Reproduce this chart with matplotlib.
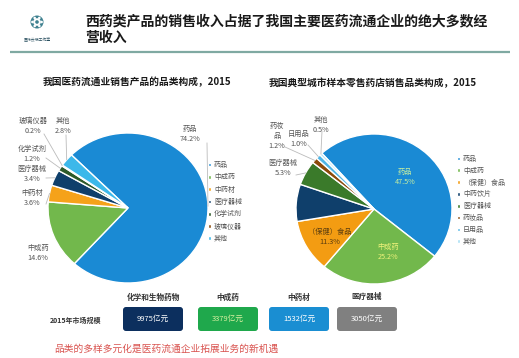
import matplotlib
matplotlib.use("Agg")
import matplotlib.pyplot as plt
from matplotlib.patches import FancyBboxPatch, Circle
import numpy as np

plt.rcParams['font.family'] = ['Noto Sans CJK SC', 'DejaVu Sans']

W, H = 519, 358

# ---------------- data ----------------
title_lines = ["西药类产品的销售收入占据了我国主要医药流通企业的绝大多数经", "营收入"]
left_title = "我国医药流通业销售产品的品类构成，2015"
left_cats = ["药品", "中成药", "中药材", "医疗器械", "化学试剂", "玻璃仪器", "其他"]
left_vals = [74.2, 14.6, 3.6, 3.4, 1.2, 0.2, 2.8]
left_colors = ["#1a8ad4", "#72b84c", "#f5a21a", "#0f3f6b", "#2d5a2a", "#8b4a0b", "#3cb8ea"]

right_title = "我国典型城市样本零售药店销售品类构成，2015"
right_cats = ["药品", "中成药", "（保健）食品", "中药饮片", "医疗器械", "药妆品", "日用品", "其他"]
right_vals = [47.5, 25.2, 11.3, 8.0, 5.3, 1.2, 1.0, 0.5]
right_colors = ["#1a8ad4", "#72b84c", "#f39c12", "#0f3f6b", "#3a7a2a", "#8b4a0b", "#4fb5e6", "#a8dff5"]

market_label = "2015年市场规模"
market_cats = ["化学和生物药物", "中成药", "中药材", "医疗器械"]
market_vals = [9975, 3379, 1532, 3050]
market_colors = ["#0c2f5e", "#1fa84c", "#1a8ed2", "#808080"]
market_text_colors = ["white", "#d8f0a0", "white", "white"]
footer = "品类的多样多元化是医药流通企业拓展业务的新机遇"

fig = plt.figure(figsize=(W / 100, H / 100), dpi=100)
fig.patch.set_facecolor("white")


def make_pie(cx, cy, rx, ry, vals, colors, start):
    ax = fig.add_axes([(cx - rx) / W, 1 - (cy + ry) / H, 2 * rx / W, 2 * ry / H])
    wedges, _ = ax.pie(vals, colors=colors, startangle=start, counterclock=False, radius=1,
                       wedgeprops=dict(edgecolor="white", linewidth=1.0))
    ax.set_aspect("auto")
    ax.set_xlim(-1, 1)
    ax.set_ylim(-1, 1)
    ax.axis("off")
    ax.patch.set_alpha(0)
    return ax, wedges


def mid_angle(vals, i, start):
    tot = sum(vals)
    before = sum(vals[:i])
    return np.deg2rad(start - 360 * (before + vals[i] / 2) / tot)


L = dict(cx=128, cy=208, rx=80, ry=75)
left_start = 135
axL, wL = make_pie(L["cx"], L["cy"], L["rx"], L["ry"], left_vals, left_colors, left_start)

R = dict(cx=374, cy=209, rx=78, ry=75)
right_start = 132
axR, wR = make_pie(R["cx"], R["cy"], R["rx"], R["ry"], right_vals, right_colors, right_start)

# overlay pixel-coordinate axes (on top)
bg = fig.add_axes([0, 0, 1, 1])
bg.set_xlim(0, W)
bg.set_ylim(H, 0)
bg.axis("off")
bg.patch.set_alpha(0)

# logo
bg.add_patch(Circle((37, 22), 6.5, facecolor="#3f8190", edgecolor="none"))
bg.add_patch(Circle((37, 22), 3.8, facecolor="white", edgecolor="none"))
for a in np.linspace(0, 2 * np.pi, 6, endpoint=False):
    bg.add_patch(Circle((37 + 4.6 * np.cos(a), 22 + 4.6 * np.sin(a)), 1.3, facecolor="white", edgecolor="none"))
bg.add_patch(Circle((37, 22), 1.8, facecolor="#3f8190", edgecolor="none"))
bg.text(37, 40, "医药云端工作室", fontsize=2.8, color="#2a5060", ha="center", va="center")

# title
bg.text(85, 21, title_lines[0], fontsize=10, weight="bold", color="#1a1a1a", ha="left", va="center")
bg.text(85, 38, title_lines[1], fontsize=10, weight="bold", color="#1a1a1a", ha="left", va="center")
bg.plot([10, 510], [52, 52], color="#7fa9a2", lw=1.6, solid_capstyle="butt")

# subtitles
bg.text(137, 82, left_title, fontsize=7, weight="bold", color="#1a1a1a", ha="center", va="center")
bg.text(373, 83, right_title, fontsize=7, weight="bold", color="#1a1a1a", ha="center", va="center")

# ---------------- left pie labels ----------------
left_label_pos = {0: (190, 134), 1: (38, 253), 2: (32, 198), 3: (32, 174), 4: (32, 154), 5: (33, 126), 6: (63, 126)}
left_leader_start = {0: (207, 143), 2: (46, 204), 3: (46, 178), 4: (46, 158), 5: (44, 134), 6: (66, 135)}
for i, (px, py) in left_label_pos.items():
    bg.text(px, py, f"{left_cats[i]}\n{left_vals[i]:.1f}%", fontsize=5.2, color="#555555",
            ha="center", va="center", linespacing=1.3)
    if i in left_leader_start:
        a = mid_angle(left_vals, i, left_start)
        ex = L["cx"] + L["rx"] * 1.0 * np.cos(a)
        ey = L["cy"] - L["ry"] * 1.0 * np.sin(a)
        sx, sy = left_leader_start[i]
        bg.plot([sx, ex], [sy, ey], color="#bbbbbb", lw=0.6)

legL = axL.legend(wL, left_cats, loc="upper left", bbox_to_anchor=(208 / W, 1 - 161 / H),
                  bbox_transform=fig.transFigure, frameon=False, fontsize=5, handlelength=0.45,
                  handleheight=0.45, handletextpad=0.4, labelspacing=0.62, borderpad=0, borderaxespad=0)
for t in legL.get_texts():
    t.set_color("#555555")

# ---------------- right pie labels ----------------
right_label = {0: ((405, 177), "药品\n47.5%", "#c8f0a0"),
               1: ((388, 252), "中成药\n25.2%", "#eef27a"),
               2: ((330, 237), "（保健）食品\n11.3%", "#5a3d10"),
               4: ((283, 168), "医疗器械\n5.3%", "#555555"),
               5: ((277, 136), "药妆\n品\n1.2%", "#555555"),
               6: ((299, 139), "日用品\n1.0%", "#555555"),
               7: ((321, 125), "其他\n0.5%", "#555555")}
right_leader_start = {4: (296, 175), 5: (285, 147), 6: (308, 145), 7: (322, 131)}
for i, ((px, py), txt, col) in right_label.items():
    bg.text(px, py, txt, fontsize=5.2, color=col, ha="center", va="center", linespacing=1.3)
    if i in right_leader_start:
        a = mid_angle(right_vals, i, right_start)
        ex = R["cx"] + R["rx"] * np.cos(a)
        ey = R["cy"] - R["ry"] * np.sin(a)
        sx, sy = right_leader_start[i]
        bg.plot([sx, ex], [sy, ey], color="#bbbbbb", lw=0.6)

legR = axR.legend(wR, right_cats, loc="upper left", bbox_to_anchor=(457 / W, 1 - 155 / H),
                  bbox_transform=fig.transFigure, frameon=False, fontsize=5, handlelength=0.45,
                  handleheight=0.45, handletextpad=0.4, labelspacing=0.55, borderpad=0, borderaxespad=0)
for t in legR.get_texts():
    t.set_color("#555555")

# ---------------- market boxes ----------------
box_x = [123, 198, 269, 337]
box_w = 60
box_y, box_h = 307, 24
bg.text(76, 320, market_label, fontsize=5, weight="bold", color="#333333", ha="center", va="center")
for x0, cat, val, col, tc in zip(box_x, market_cats, market_vals, market_colors, market_text_colors):
    bg.add_patch(FancyBboxPatch((x0, box_y), box_w, box_h, boxstyle="round,pad=0,rounding_size=3",
                                facecolor=col, edgecolor="none"))
    bg.text(x0 + box_w / 2, box_y + box_h / 2, f"{val}亿元", fontsize=5.5, color=tc, ha="center", va="center")
    bg.text(x0 + box_w / 2, 297, cat, fontsize=5.5, weight="bold", color="#333333", ha="center", va="center")

bg.text(166, 349, footer, fontsize=7, color="#d9534f", ha="center", va="center")

fig.savefig("out.png", dpi=100, facecolor="white")
